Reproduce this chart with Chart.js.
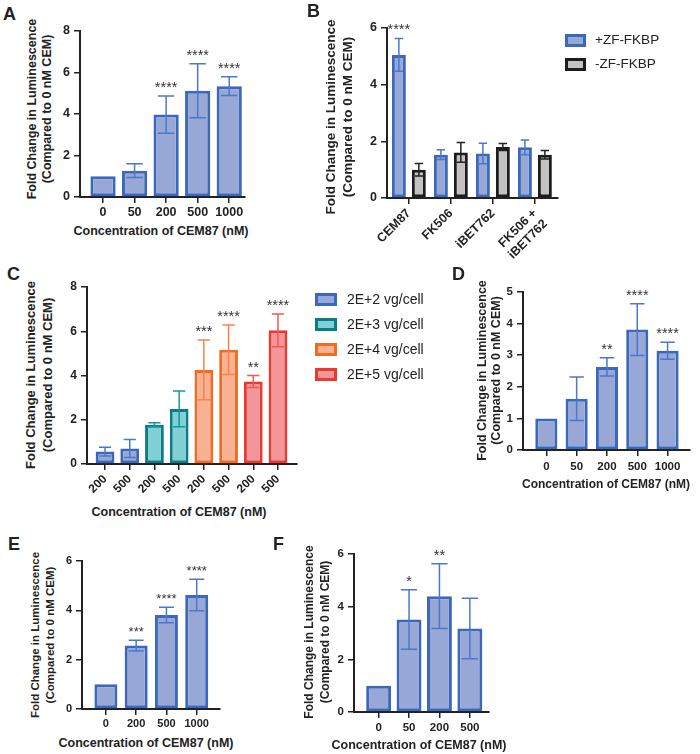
<!DOCTYPE html>
<html><head><meta charset="utf-8">
<script src="https://cdn.jsdelivr.net/npm/chart.js@4.4.1/dist/chart.umd.min.js"></script>
<style>
html,body{margin:0;padding:0;background:#fff;overflow:hidden;}
#root{position:relative;width:700px;height:754px;font-family:'Liberation Sans',Arial,sans-serif;color:#222;}
canvas{position:absolute;}
.t{position:absolute;white-space:nowrap;}
</style></head><body><div id="root"></div>
<script>
// ---------- data ----------
const yTitleLines = ['Fold Change in Luminescence', '(Compared to 0 nM CEM)'];
const xTitleText = 'Concentration of CEM87 (nM)';

const concA = ['0', '50', '200', '500', '1000'];
const meanA = [1.0, 1.27, 3.97, 5.12, 5.34];
const sdA = [0, 0.33, 0.9, 1.3, 0.45];
const starsA = ['', '', '****', '****', '****'];

const treatB = ['CEM87', 'FK506', 'iBET762', ['FK506 +', 'iBET762']];
const seriesB = ['+ZF-FKBP', '-ZF-FKBP'];
const meanBplus = [5.05, 1.53, 1.57, 1.79];
const sdBplus = [0.58, 0.17, 0.36, 0.26];
const starsBplus = ['****', '', '', ''];
const meanBminus = [1.0, 1.61, 1.8, 1.53];
const sdBminus = [0.22, 0.35, 0.12, 0.15];

const concC = ['200', '500', '200', '500', '200', '500', '200', '500'];
const doseC = ['2E+2 vg/cell', '2E+3 vg/cell', '2E+4 vg/cell', '2E+5 vg/cell'];
const groupC = [0, 0, 1, 1, 2, 2, 3, 3];
const meanC = [0.56, 0.7, 1.77, 2.49, 4.25, 5.16, 3.73, 6.04];
const sdC = [0.2, 0.41, 0.09, 0.81, 1.35, 1.12, 0.27, 0.74];
const starsC = ['', '', '', '', '***', '****', '**', '****'];

const concD = ['0', '50', '200', '500', '1000'];
const meanD = [1.0, 1.62, 2.63, 3.81, 3.14];
const sdD = [0, 0.69, 0.29, 0.82, 0.27];
const starsD = ['', '', '**', '****', '****'];

const concE = ['0', '200', '500', '1000'];
const meanE = [1.0, 2.57, 3.81, 4.62];
const sdE = [0, 0.22, 0.31, 0.64];
const starsE = ['', '***', '****', '****'];

const concF = ['0', '50', '200', '500'];
const meanF = [1.0, 3.51, 4.4, 3.17];
const sdF = [0, 1.13, 1.23, 1.15];
const starsF = ['', '*', '**', ''];

// ---------- styles ----------
const FONT = "'Liberation Sans', Arial, sans-serif";
Chart.defaults.font.family = FONT;
const BLUE = {fill: '#97a7d6', line: '#3b68bb', err: '#4a79cc'};
const GREY = {fill: '#c2c2c2', line: '#1c1c1c', err: '#222222'};
const TEAL = {fill: '#80d0d6', line: '#0b7d87', err: '#1796a0'};
const ORANGE = {fill: '#f8b293', line: '#f26b22', err: '#f5844a'};
const RED = {fill: '#f3969c', line: '#ea3a2e', err: '#ef5a50'};
const C_COLORS = [BLUE, TEAL, ORANGE, RED];

const root = document.getElementById('root');

const errPlugin = {
  id: 'errbars',
  afterDatasetsDraw(chart, args, opts) {
    const ctx = chart.ctx, ys = chart.scales.y;
    chart.data.datasets.forEach((ds, di) => {
      const meta = chart.getDatasetMeta(di);
      meta.data.forEach((bar, i) => {
        const m = ds.data[i];
        if (m == null) return;
        const sd = ds.sd ? ds.sd[i] : 0;
        const hi = ys.getPixelForValue(m + sd), lo = ys.getPixelForValue(m - sd);
        const col = Array.isArray(ds.errColor) ? ds.errColor[i] : ds.errColor;
        ctx.save();
        if (sd > 0) {
          const hw = bar.width * opts.cap / 2;
          ctx.strokeStyle = col; ctx.lineWidth = opts.lw;
          ctx.beginPath();
          ctx.moveTo(bar.x, lo); ctx.lineTo(bar.x, hi);
          ctx.moveTo(bar.x - hw, hi); ctx.lineTo(bar.x + hw, hi);
          ctx.moveTo(bar.x - hw, lo); ctx.lineTo(bar.x + hw, lo);
          ctx.stroke();
        }
        const st = ds.stars && ds.stars[i];
        if (st) {
          ctx.fillStyle = '#333';
          ctx.font = opts.starSize + 'px ' + FONT;
          ctx.textAlign = 'center'; ctx.textBaseline = 'alphabetic';
          ctx.fillText(st, bar.x, hi - opts.starGap);
        }
        ctx.restore();
      });
    });
  }
};

function panel(p) {
  const ct = p.t - 12, cr = p.r + 12;
  const w = cr - p.cl, h = p.cb - ct;
  const cv = document.createElement('canvas');
  cv.width = w; cv.height = h;
  cv.style.left = p.cl + 'px'; cv.style.top = ct + 'px';
  cv.style.width = w + 'px'; cv.style.height = h + 'px';
  root.appendChild(cv);
  const idx = p.labels.map((_, i) => i);
  const tickFont = {size: p.tick, weight: 'bold', family: FONT};
  const gridOpts = {display: true, drawOnChartArea: false, drawTicks: true, tickLength: 6, color: '#222', lineWidth: 1.5, offset: false};
  const borderOpts = {display: true, color: '#222', width: 2};
  new Chart(cv, {
    type: 'bar',
    data: {labels: idx, datasets: p.datasets},
    options: {
      responsive: false, animation: false, events: [],
      layout: {padding: {left: 0, top: 12, right: 12, bottom: 0}},
      plugins: {
        legend: {display: false}, tooltip: {enabled: false},
        errbars: {cap: p.cap || 0.65, lw: 1.5, starSize: p.star || 14.5, starGap: 4}
      },
      scales: {
        x: {
          type: 'linear', min: p.xMin, max: p.xMax, offset: false,
          afterBuildTicks: s => { s.ticks = idx.map(v => ({value: v})); },
          afterFit: s => { s.height = p.cb - p.b; },
          grid: gridOpts, border: borderOpts,
          ticks: {font: tickFont, color: '#222', padding: p.xPad, autoSkip: false,
                  maxRotation: p.rot || 0, minRotation: p.rot || 0,
                  callback: v => p.labels[v]}
        },
        y: {
          min: 0, max: p.yMax,
          afterFit: s => { s.width = p.l - p.cl; },
          grid: gridOpts, border: borderOpts,
          ticks: {stepSize: p.yStep, font: tickFont, color: '#222', padding: 4}
        }
      }
    },
    plugins: [errPlugin]
  });
}

function singleSet(mean, sd, stars, col, barPct) {
  return {data: mean, sd: sd, stars: stars, backgroundColor: col.fill, borderColor: col.line,
          errColor: col.err, borderWidth: 3, borderSkipped: false, barPercentage: barPct, categoryPercentage: 1};
}

// ---------- text helpers ----------
function addText(text, left, baseline, fs, weight, extra) {
  const d = document.createElement('div');
  d.className = 't';
  d.textContent = text;
  d.style.cssText += `left:${left}px;top:${baseline - 0.8465 * fs}px;font-size:${fs}px;line-height:${fs}px;font-weight:${weight};` + (extra || '');
  root.appendChild(d);
  return d;
}
function yTitle(cx, cy, fs, lh) {
  const W = 300, H = lh * yTitleLines.length;
  const d = document.createElement('div');
  d.className = 't';
  d.style.cssText += `left:${cx - W / 2}px;top:${cy - H / 2}px;width:${W}px;height:${H}px;line-height:${lh}px;font-size:${fs}px;font-weight:bold;text-align:center;transform:rotate(-90deg);`;
  yTitleLines.forEach(t => { const l = document.createElement('div'); l.textContent = t; d.appendChild(l); });
  root.appendChild(d);
}
function xTitle(cx, cy, fs) {
  const W = 300, L = fs * 1.2;
  const d = document.createElement('div');
  d.className = 't';
  d.textContent = xTitleText;
  d.style.cssText += `left:${cx - W / 2}px;top:${cy - L / 2}px;width:${W}px;line-height:${L}px;font-size:${fs}px;font-weight:bold;text-align:center;`;
  root.appendChild(d);
}
function legendItem(text, col, sx, sw, cy, sh, tx, fs) {
  const s = document.createElement('div');
  s.style.cssText = `position:absolute;left:${sx}px;top:${cy - sh / 2}px;width:${sw}px;height:${sh}px;box-sizing:border-box;border:3px solid ${col.line};background:${col.fill};`;
  root.appendChild(s);
  const L = fs * 1.2;
  const d = document.createElement('div');
  d.className = 't';
  d.textContent = text;
  d.style.cssText += `left:${tx}px;top:${cy - L / 2}px;line-height:${L}px;font-size:${fs}px;color:#222;`;
  root.appendChild(d);
}

// ---------- panel A ----------
panel({cl: 55, l: 80, t: 31, r: 245, b: 197, cb: 222, yMax: 8, yStep: 2, xMin: -0.73, xMax: 4.5,
       tick: 12.5, xPad: 2.5, labels: concA,
       datasets: [singleSet(meanA, sdA, starsA, BLUE, 0.8)]});
yTitle(39.5, 108.5, 12.5, 15);
xTitle(161, 231, 12.5);
addText('A', 3, 20.5, 18, 'bold');

// ---------- panel B ----------
panel({cl: 350, l: 387, t: 28, r: 558, b: 198, cb: 275, yMax: 6, yStep: 2, xMin: -0.52, xMax: 3.55,
       tick: 12.5, xPad: 2, rot: 45, labels: treatB, cap: 0.6,
       datasets: [
         {data: meanBplus, sd: sdBplus, stars: starsBplus, label: seriesB[0], backgroundColor: BLUE.fill, borderColor: BLUE.line,
          errColor: BLUE.err, borderWidth: 3, borderSkipped: false, barPercentage: 0.7, categoryPercentage: 0.95},
         {data: meanBminus, sd: sdBminus, label: seriesB[1], backgroundColor: GREY.fill, borderColor: GREY.line,
          errColor: GREY.err, borderWidth: 3, borderSkipped: false, barPercentage: 0.7, categoryPercentage: 0.95}
       ]});
yTitle(338.5, 116.5, 13.5, 17);
addText('B', 307, 17.5, 18, 'bold');
legendItem(seriesB[0], BLUE, 565, 21, 40, 13, 595, 13.5);
legendItem(seriesB[1], GREY, 565, 21, 64, 13, 595, 13.5);

// ---------- panel C ----------
panel({cl: 60, l: 87, t: 287, r: 297, b: 464, cb: 505, yMax: 8, yStep: 2, xMin: -0.73, xMax: 7.77,
       tick: 12, xPad: 2, rot: 45, labels: concC,
       datasets: [{data: meanC, sd: sdC, stars: starsC,
                   backgroundColor: groupC.map(g => C_COLORS[g].fill),
                   borderColor: groupC.map(g => C_COLORS[g].line),
                   errColor: groupC.map(g => C_COLORS[g].err),
                   borderWidth: 3, borderSkipped: false, barPercentage: 0.76, categoryPercentage: 1}]});
yTitle(38.5, 375, 13, 17);
xTitle(179, 512, 12.5);
addText('C', 7, 280.5, 18, 'bold');
doseC.forEach((t, i) => legendItem(t, C_COLORS[i], 315, 22, 299 + 25 * i, 13, 347, 14));

// ---------- panel D ----------
panel({cl: 500, l: 523, t: 292, r: 690, b: 450, cb: 476, yMax: 5, yStep: 1, xMin: -0.77, xMax: 4.74,
       tick: 11.5, xPad: 3.8, labels: concD,
       datasets: [singleSet(meanD, sdD, starsD, BLUE, 0.73)]});
yTitle(488.5, 370, 12.5, 13.5);
xTitle(606, 484, 12);
addText('D', 452, 280.5, 18, 'bold');

// ---------- panel E ----------
panel({cl: 58, l: 82, t: 561, r: 220, b: 709, cb: 732, yMax: 6, yStep: 2, xMin: -0.79, xMax: 3.77,
       tick: 11, xPad: 2.4, labels: concE, star: 13,
       datasets: [singleSet(meanE, sdE, starsE, BLUE, 0.76)]});
yTitle(42.5, 635, 11.5, 15);
xTitle(146, 743, 12.5);
addText('E', 8, 550.5, 18, 'bold');

// ---------- panel F ----------
panel({cl: 332, l: 354, t: 554, r: 489, b: 712, cb: 735, yMax: 6, yStep: 2, xMin: -0.81, xMax: 3.63,
       tick: 11.5, xPad: 2.8, labels: concF,
       datasets: [singleSet(meanF, sdF, starsF, BLUE, 0.82)]});
yTitle(317, 631.5, 12, 16);
xTitle(419, 745, 12.5);
addText('F', 273, 550.5, 18, 'bold');
</script>
</body></html>
